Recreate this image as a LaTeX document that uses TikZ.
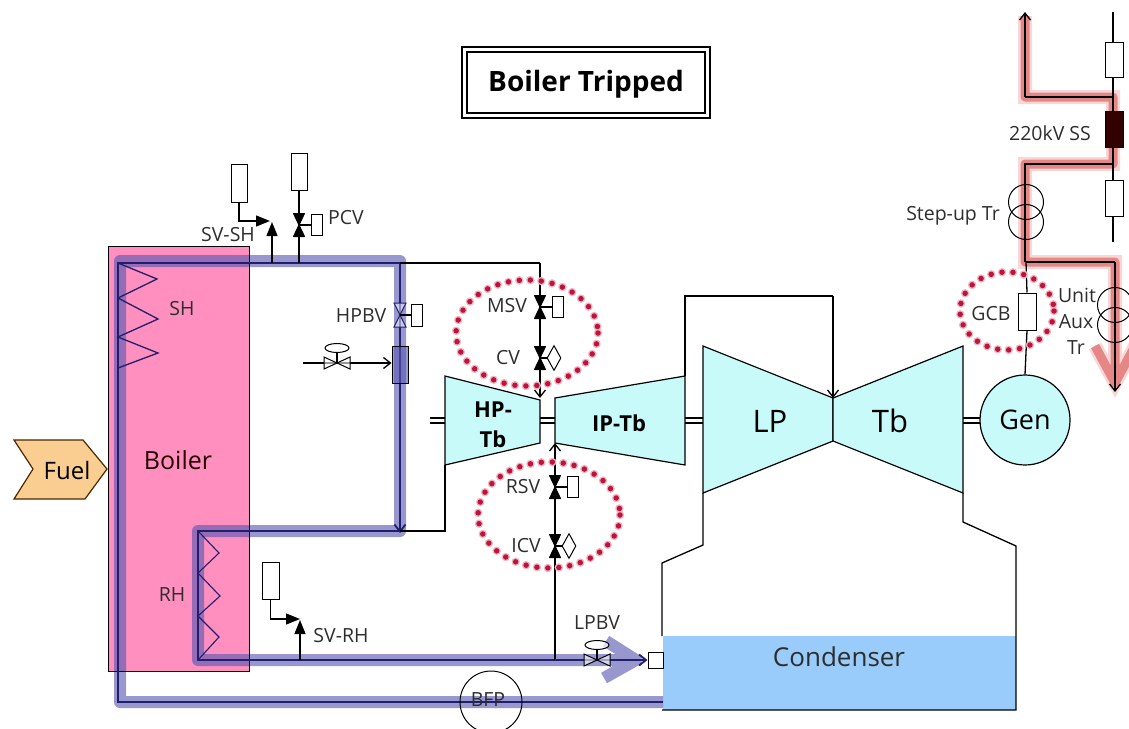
\documentclass[tikz,border=0pt]{standalone}
\usepackage{fontspec}
\setmainfont{Open Sans}
\usetikzlibrary{arrows.meta,shapes.geometric}
\definecolor{boilerpink}{RGB}{255,143,190}
\definecolor{steamblue}{RGB}{88,88,178}
\definecolor{pipenavy}{RGB}{34,30,110}
\definecolor{turbcyan}{RGB}{200,250,250}
\definecolor{condblue}{RGB}{153,204,250}
\definecolor{fuelorange}{RGB}{250,205,145}
\definecolor{powerred}{RGB}{229,135,135}
\definecolor{halored}{RGB}{250,215,215}
\definecolor{ringred}{RGB}{190,20,60}
\definecolor{inkgrey}{RGB}{45,45,45}
\tikzset{
  txt/.style={font=\fontsize{19.5}{21}\selectfont,text=inkgrey,inner sep=0pt,align=center},
  bigtxt/.style={font=\fontsize{27}{30}\selectfont,text=black,inner sep=0pt,align=center},
  boldtxt/.style={font=\fontsize{22}{30}\selectfont\bfseries,text=black,inner sep=0pt,align=center},
  bar/.style={draw=black,line width=1pt,fill=white,inner sep=0pt,rectangle},
  wire/.style={draw=black,line width=1.3pt},
  pipe/.style={draw=pipenavy,line width=1.8pt,line join=miter},
  flow/.style={draw=steamblue,line width=12pt,opacity=.62,line join=round},
  power/.style={draw=powerred,line width=9pt,line join=round,preaction={draw=halored,line width=14pt}},
  turb/.style={draw=black,line width=1.2pt,fill=turbcyan},
  ring/.style={draw=ringred,line width=5.5pt,line cap=round,dash pattern=on 0pt off 11pt,
    preaction={draw=ringred!30,line width=8.5pt,line cap=round,dash pattern=on 0pt off 11pt}},
  safety/.style={-{Triangle[length=14pt,width=11pt]}},
  barb/.style={-{Straight Barb[length=7pt,width=11pt]}}
}
\begin{document}
\begin{tikzpicture}[x=1pt,y=-1pt]
\useasboundingbox (0,0) rectangle (1129,728);
% boiler and heat flows
\node[fill=boilerpink,minimum width=141,minimum height=424,inner sep=0pt] (boilerbox) at (179,459) {};
\node[fill=condblue,minimum width=353,minimum height=74,inner sep=0pt] (condenser) at (839.5,673) {};
\draw[flow] (663,702) -- (120,702) -- (120,261) -- (400,261) -- (400,531) -- (198,531) -- (198,660) -- (628,660)
  (606,641) -- (636,660) -- (604,678);
\draw[black,line width=1pt] (boilerbox.north west) rectangle (boilerbox.south east);
% power flows
\draw[power] (1025,16) -- (1025,97) -- (1113,97) -- (1113,164) -- (1025,164) -- (1025,262) -- (1115,262) -- (1115,382)
  (1095,346) -- (1115,383) -- (1135,346);
% turbines
\draw[turb] (445,376) -- (540,400) -- (540,443) -- (445,465) -- cycle;
\draw[turb] (555,398) -- (685,376) -- (685,465) -- (555,443) -- cycle;
\draw[turb] (703,346) -- (833,398) -- (833,441) -- (703,493) -- cycle;
\draw[turb] (833,398) -- (963,346) -- (963,493) -- (833,441) -- cycle;
\node[turb,circle,minimum size=90,inner sep=0pt] (gen) at (1025,420) {};
\node[bigtxt] (genlabel) at (1025,420) {Gen};
\node[bigtxt,font=\fontsize{31}{34}\selectfont] (tblabel) at (890,421) {Tb};
\node[bigtxt,font=\fontsize{31}{34}\selectfont] (lplabel) at (770,421) {LP};
\node[boldtxt] (iplabel) at (619,423) {IP-Tb};
\node[boldtxt] (hplabel) at (493,425) {HP-\\Tb};
% shaft couplings
\foreach \xa/\xb in {430/445,540/555,685/703,963/980}{
  \draw[wire,line width=1.6pt] (\xa,418) -- (\xb,418) (\xa,423) -- (\xb,423);
}
% condenser hull
\draw[wire] (703,493) -- (703,545) -- (662,563) -- (662,636);
\draw[wire] (963,493) -- (963,522) -- (1016,546) -- (1016,710) -- (662,710);
% crossover
\draw[wire] (685,376) -- (685,296) -- (833,296);
\draw[wire,barb] (833,296) -- (833,398);
% steam pipes
\draw[pipe] (663,702) -- (118,702) -- (118,263) -- (400,263);
\draw[pipe,line width=1.3pt] (118,263) -- (157,279) -- (118,298) -- (158,319) -- (118,337) -- (158,353) -- (118,368);
\draw[pipe,line width=1.1pt] (198,531) -- (219,553) -- (198,573) -- (220,596) -- (198,616) -- (219,637) -- (198,660);
\draw[pipe,barb] (400,263) -- (400,533);
\draw[pipe] (400,531) -- (198,531) -- (198,660) -- (555,660);
\draw[wire] (400,263) -- (540,263);
\draw[wire,barb] (540,263) -- (540,398);
\draw[wire] (400,531) -- (445,531) -- (445,465);
\draw[wire,barb] (555,660) -- (555,443);
\node[bar,minimum width=15,minimum height=16] (lpbox) at (655.5,660) {};
\draw[pipe,barb] (555,660) -- (lpbox.west);
% shut-off valves and their actuators
\foreach \name/\x/\y in {pcv/299/225,msv/540/307,cv/540/358,rsv/555/487,icv/555/546}{
  \coordinate (\name) at (\x,\y);
  \filldraw[black,line width=1pt,line join=round] (\x-5.5,\y-11.5) -- (\x+5.5,\y-11.5) -- (\x,\y) -- cycle (\x-5.5,\y+11.5) -- (\x+5.5,\y+11.5) -- (\x,\y) -- cycle;
}
\foreach \name/\x/\y in {pcv/316.5/225,msv/557.5/307,rsv/572.5/487}{
  \node[bar,minimum width=11,minimum height=21] (\name box) at (\x,\y) {};
  \draw[wire] (\name) -- (\name box);
}
\foreach \name/\x/\y in {cv/554/358,icv/569/546}{
  \node[bar,diamond,aspect=.5,minimum width=14,minimum height=25] (\name box) at (\x,\y) {};
  \draw[wire] (\name) -- (\name box);
}
% open valve on the bypass
\draw[pipenavy,line width=1pt,fill=white,fill opacity=.5] (394,303) -- (406,303) -- (394,327) -- (406,327) -- cycle;
\node[bar,minimum width=11,minimum height=22] (hpbvbox) at (416.5,315) {};
\draw[wire] (400,315) -- (hpbvbox);
\node[bar,fill=steamblue,fill opacity=.6,minimum width=16,minimum height=37] (spraybox) at (400,364.5) {};
\coordinate (spraystart) at (303,363);
\draw[wire,barb] (spraystart) -- (spraybox.west |- spraystart);
\foreach \name/\x/\y in {spray/337/363,lpbv/597/660}{
  \draw[wire,line width=1pt,fill=white,fill opacity=.6] (\x-13,\y-6) -- (\x-13,\y+6) -- (\x+13,\y-6) -- (\x+13,\y+6) -- cycle;
  \node[bar,ellipse,fill opacity=.7,minimum width=24,minimum height=9] (\name top) at (\x,\y-15) {};
  \draw[wire] (\name top) -- (\x,\y);
}
% safety valves
\node[bar,minimum width=16,minimum height=38] (svshbox) at (239,183) {};
\node[bar,minimum width=16,minimum height=37] (pcvtop) at (299,171.5) {};
\node[bar,minimum width=17,minimum height=37] (svrhbox) at (270.5,580.5) {};
\draw[wire] (pcvtop) -- (299,263);
\draw[wire,safety] (svshbox.south) |- (270,221);
\draw[wire,safety] (272,263) -- (272,222);
\draw[wire,safety] (svrhbox.south) |- (300,619);
\draw[wire,safety] (300,660) -- (300,620);
% switchyard
\draw[wire] (1113,12) -- (1113,242);
\node[bar,minimum width=18,minimum height=35] (cbtop) at (1114,59.5) {};
\node[bar,fill=black!80!red,minimum width=18,minimum height=36] (ssbar) at (1114,129) {};
\node[bar,minimum width=18,minimum height=36] (cbbot) at (1114,198) {};
\draw[wire] (1113,97) -- (1025,97);
\draw[wire,barb] (1025,97) -- (1025,12);
\draw[wire] (1113,164) -- (1025,164) -- (1025,262);
\node[circle,draw=black,line width=1pt,minimum size=35,inner sep=0pt] (stepa) at (1026,202) {};
\node[circle,draw=black,line width=1pt,minimum size=35,inner sep=0pt] (stepb) at (1026,222) {};
\node[circle,draw=black,line width=1pt,minimum size=35,inner sep=0pt] (auxa) at (1115,305) {};
\node[circle,draw=black,line width=1pt,minimum size=35,inner sep=0pt] (auxb) at (1115,325) {};
\node[bar,minimum width=18,minimum height=37] (gcbbox) at (1027,311.5) {};
\draw[wire] (1026,262) -- (gcbbox.north);
\draw[wire] (gcbbox.south) -- (gen.north);
\draw[wire] (1026,262) -- (1115,262);
\draw[wire,barb] (1115,262) -- (1115,392);
% red rings round the tripped items
\draw[ring] (527,333) ellipse (71 and 53);
\draw[ring] (549,515) ellipse (71 and 53);
\draw[ring] (1007,311) ellipse (47 and 39);
% pump
\node[circle,draw=black,line width=1pt,minimum size=62,inner sep=0pt] (bfp) at (491,702) {};
\node[txt] (bfplabel) at (488,700) {BFP};
% title and fuel
\node[draw=black,line width=1.7pt,double,double distance=3pt,minimum width=243,minimum height=66,inner sep=0pt] (titlebox) at (586,82.5) {};
\node[font=\fontsize{28}{30}\selectfont\bfseries,inner sep=0pt] (titlelabel) at (586,84) {Boiler Tripped};
\draw[draw=black!70!orange,line width=1.2pt,fill=fuelorange] (14,440) -- (83,440) -- (107,469) -- (85,499) -- (14,499) -- (33,469) -- cycle;
\node[font=\fontsize{24}{26}\selectfont,inner sep=0pt] (fuellabel) at (67,470) {Fuel};
\node[font=\fontsize{25}{26}\selectfont,inner sep=0pt,text=black!85!red] (boilerlabel) at (178,460) {Boiler};
\node[font=\fontsize{26}{28}\selectfont,inner sep=0pt,text=inkgrey] (condlabel) at (839,657) {Condenser};
% labels
\node[txt] (shlabel) at (182,309) {SH};
\node[txt] (rhlabel) at (172,595) {RH};
\node[txt] (svshlabel) at (228,235) {SV-SH};
\node[txt] (pcvlabel) at (346,218) {PCV};
\node[txt] (hpbvlabel) at (361,316) {HPBV};
\node[txt] (msvlabel) at (507,306) {MSV};
\node[txt] (cvlabel) at (508,358) {CV};
\node[txt] (rsvlabel) at (523,487) {RSV};
\node[txt] (icvlabel) at (526,546) {ICV};
\node[txt] (svrhlabel) at (341,636) {SV-RH};
\node[txt] (lpbvlabel) at (597,623) {LPBV};
\node[txt] (sslabel) at (1050,133) {220kV SS};
\node[txt] (steplabel) at (953,216) {Step-up Tr};
\node[txt] (gcblabel) at (991,314) {GCB};
\node[txt] (unitlabel) at (1077,295) {Unit};
\node[txt] (auxlabel) at (1076,322) {Aux};
\node[txt] (trlabel) at (1076,348) {Tr};
\end{tikzpicture}
\end{document}
